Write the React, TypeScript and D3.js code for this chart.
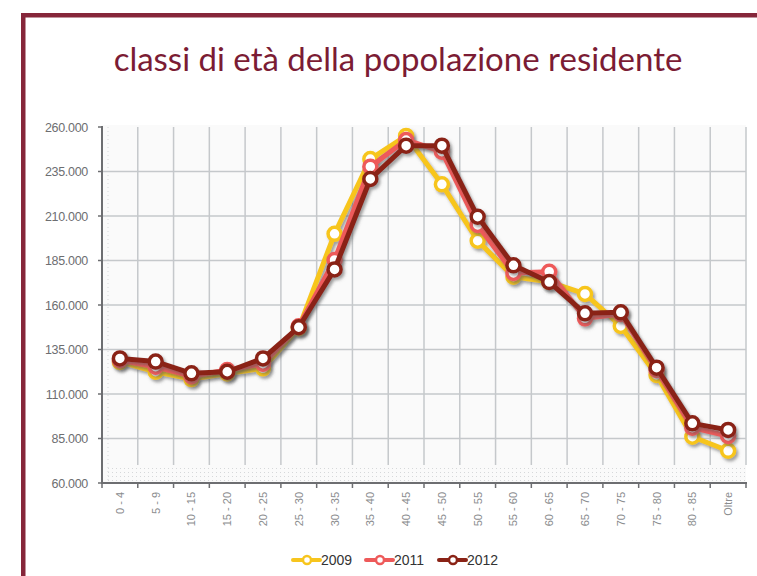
import React from "react";
import * as d3 from "d3";

const categories = ["0 - 4","5 - 9","10 - 15","15 - 20","20 - 25","25 - 30","30 - 35","35 - 40","40 - 45","45 - 50","50 - 55","55 - 60","60 - 65","65 - 70","70 - 75","75 - 80","80 - 85","Oltre"];
const series2009 = [128000,122500,118400,121500,124400,147000,200000,242000,255000,227800,196100,175900,173000,166200,148200,120700,86000,78100];
const series2011 = [129000,125300,120000,123500,127000,148000,185300,237700,252700,246100,205000,178000,178700,152500,155000,123500,91100,86400];
const series2012 = [130000,128200,121600,122500,130000,147500,180000,230800,249500,249500,209600,182300,172900,155300,155900,124800,93500,89800];
const yTicks = [60000,85000,110000,135000,160000,185000,210000,235000,260000];
const seriesNames = ["2009","2011","2012"];
const seriesColors = ["#f7c51e","#ee5a5a","#8a2316"];

export default function App() {
  const W = 757, H = 576;
  const left = 102, right = 746, top = 127, bottom = 483;
  const x = d3.scaleBand<string>().domain(categories).range([left, right]);
  const y = d3.scaleLinear().domain([60000, 260000]).range([bottom, top]);
  const fmt = (v: number) => d3.format(",")(v).replace(/,/g, ".");
  const data = [series2009, series2011, series2012];
  const line = d3.line<number>().x((_, i) => (x(categories[i]) as number) + x.bandwidth() / 2).y(d => y(d));
  const bounds = categories.map(c => x(c) as number).concat([right]);

  return (
    <svg width={W} height={H} style={{ position: "absolute", left: 0, top: 0, background: "#fff" }}>
      <defs>
        <filter id="sh" x="-10%" y="-10%" width="130%" height="130%">
          <feDropShadow dx="2" dy="2.5" stdDeviation="1.5" floodColor="#555" floodOpacity="0.55" />
        </filter>
        <pattern id="dots" width="4" height="4" patternUnits="userSpaceOnUse">
          <rect x="0" y="0" width="1" height="1" fill="#d6d8da" />
        </pattern>
      </defs>
      {/* frame */}
      <rect x={22} y={13} width={W - 22} height={4.5} fill="#86263a" />
      <rect x={21} y={13} width={4.5} height={H - 13} fill="#86263a" />
      <text x={398} y={71} textAnchor="middle" fontFamily="Lato, 'Open Sans', sans-serif" fontSize={33} fill="#7b1c34">classi di età della popolazione residente</text>

      {/* plot background */}
      <rect x={left} y={top - 2} width={right - left} height={bottom - top + 2} fill="#fafafa" />
      <rect x={left + 4} y={465} width={right - left - 4} height={bottom - 465} fill="url(#dots)" />
      <line x1={left + 6} x2={left + 6} y1={top} y2={bottom} stroke="#d6d8da" strokeDasharray="1 3" />
      {/* grid */}
      {yTicks.slice(1, -1).map(t => (
        <line key={t} x1={left} x2={right} y1={y(t)} y2={y(t)} stroke="#c5c8cb" strokeWidth={1.5} />
      ))}
      {bounds.slice(1).map((b, i) => (
        <line key={i} x1={b} x2={b} y1={top} y2={465} stroke="#c5c8cb" strokeWidth={1.5} />
      ))}
      {/* axes */}
      <line x1={left} x2={left} y1={top - 1} y2={bottom + 1} stroke="#6d6e71" strokeWidth={2} />
      <line x1={left - 1} x2={right + 1} y1={bottom} y2={bottom} stroke="#6d6e71" strokeWidth={2} />
      {yTicks.map(t => (
        <g key={t}>
          <line x1={left - 4} x2={left} y1={y(t)} y2={y(t)} stroke="#6d6e71" strokeWidth={1.5} />
          <text x={88} y={y(t) + 4.5} textAnchor="end" fontFamily="'Liberation Sans', Arial, sans-serif" fontSize={12.5} fill="#6d6e71" letterSpacing={-0.3}>{fmt(t)}</text>
        </g>
      ))}
      {bounds.map((b, i) => (
        <line key={i} x1={b} x2={b} y1={bottom} y2={bottom + 5} stroke="#6d6e71" strokeWidth={1.5} />
      ))}
      {categories.map(c => {
        const cx = (x(c) as number) + x.bandwidth() / 2 + 4;
        return (
          <text key={c} transform={`translate(${cx},492) rotate(-90)`} textAnchor="end" fontFamily="'Liberation Sans', Arial, sans-serif" fontSize={11} fill="#8a8c8e">{c}</text>
        );
      })}
      {/* series */}
      {data.map((s, si) => (
        <g key={si} filter="url(#sh)">
          <path d={line(s) || ""} fill="none" stroke={seriesColors[si]} strokeWidth={5} strokeLinejoin="round" />
          {s.map((v, i) => (
            <circle key={i} cx={(x(categories[i]) as number) + x.bandwidth() / 2} cy={y(v)} r={6.5} fill="#fff" stroke={seriesColors[si]} strokeWidth={3.5} />
          ))}
        </g>
      ))}
      {/* legend */}
      {seriesNames.map((n, i) => {
        const lx = 293 + i * 73;
        return (
          <g key={n}>
            <line x1={lx} x2={lx + 27} y1={560} y2={560} stroke={seriesColors[i]} strokeWidth={4} strokeLinecap="round" />
            <circle cx={lx + 14} cy={560} r={4} fill="#fff" stroke={seriesColors[i]} strokeWidth={2.5} />
            <text x={lx + 28} y={565} fontFamily="'Liberation Sans', Arial, sans-serif" fontSize={14} fill="#333">{n}</text>
          </g>
        );
      })}
    </svg>
  );
}
